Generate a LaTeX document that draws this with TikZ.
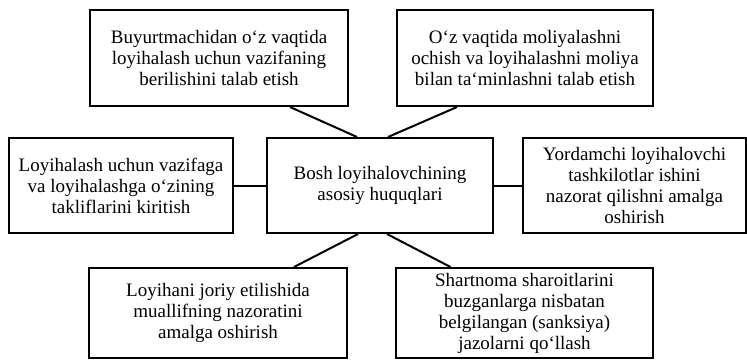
\documentclass[tikz,border=0pt]{standalone}
\usepackage{fontspec}
\setmainfont{Liberation Serif}
\usetikzlibrary{positioning,calc}

\begin{document}
\begin{tikzpicture}[x=0.5pt, y=-0.5pt,
			box/.style={draw, line width=1pt, align=center, inner sep=0pt, font=\fontsize{9.5}{10.5}\selectfont},
			link/.style={line width=1pt}]
			\useasboundingbox (0,0) rectangle (747,361);
			\node[box, minimum width=129pt, minimum height=48pt] (tl) at (219,58) {Buyurtmachidan o‘z vaqtida\\loyihalash uchun vazifaning\\berilishini talab etish};
			\node[box, minimum width=128pt, minimum height=48pt] (tr) at (525,58) {O‘z vaqtida moliyalashni\\ochish va loyihalashni moliya\\bilan ta‘minlashni talab etish};
			\node[box, minimum width=112pt, minimum height=47.5pt] (lf) at (121,185.5) {Loyihalash uchun vazifaga\\va loyihalashga o‘zining\\takliflarini kiritish};
			\node[box, minimum width=113pt, minimum height=47.5pt] (ctr) at (380,185.5) {Bosh loyihalovchining\\asosiy huquqlari};
			\node[box, minimum width=111.5pt, minimum height=47.5pt] (rt) at (634.5,185.5) {Yordamchi loyihalovchi\\tashkilotlar ishini\\nazorat qilishni amalga\\oshirish};
			\node[box, minimum width=129pt, minimum height=45pt] (bl) at (218,313) {Loyihani joriy etilishida\\muallifning nazoratini\\amalga oshirish};
			\node[box, minimum width=128.5pt, minimum height=45pt] (br) at (524.5,313) {Shartnoma sharoitlarini\\buzganlarga nisbatan\\belgilangan (sanksiya)\\jazolarni qo‘llash};
			\draw[link] ($(tl.south)+(71,0)$) -- ($(ctr.north)+(-23,0)$);
			\draw[link] ($(tr.south)+(-68,0)$) -- ($(ctr.north)+(8,0)$);
			\draw[link] ($(ctr.south)+(-22,0)$) -- ($(bl.north)+(76,0)$);
			\draw[link] ($(ctr.south)+(7,0)$) -- ($(br.north)+(-74,0)$);
			\draw[link] (lf.east) -- (ctr.west);
			\draw[link] (ctr.east) -- (rt.west);
		\end{tikzpicture}
\end{document}
